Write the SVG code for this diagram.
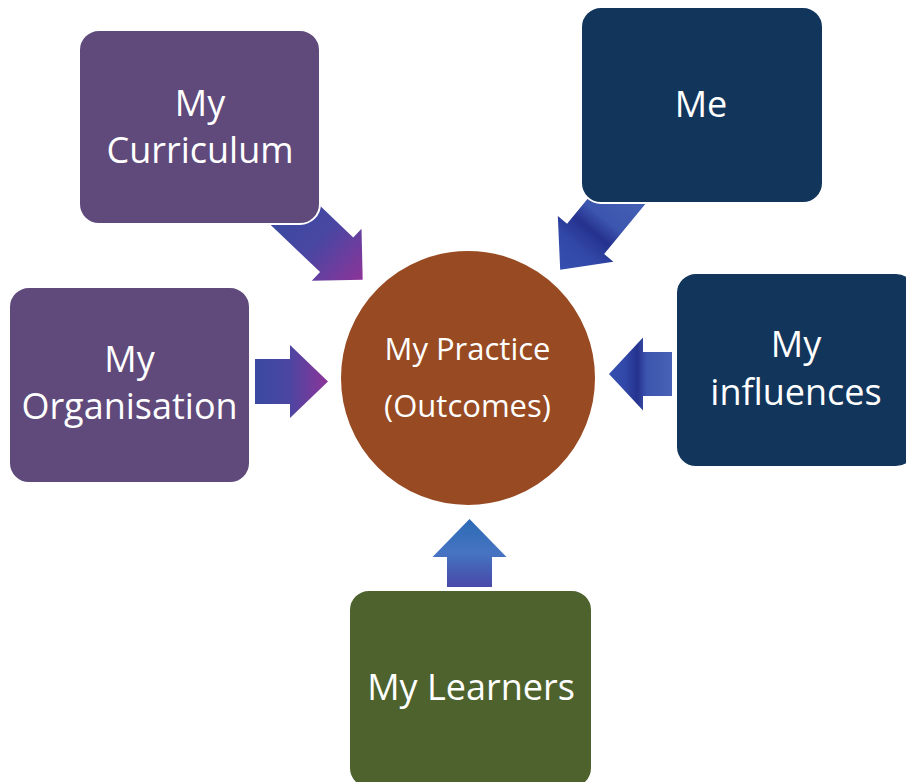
<svg xmlns="http://www.w3.org/2000/svg" width="906" height="782" viewBox="0 0 906 782">
  <style>
    .box { stroke: #ffffff; stroke-width: 2; }
    .purple { fill: #5F4A7B; }
    .navy { fill: #12355C; }
    .green { fill: #4E622D; }
    .brown { fill: #984A22; }
    .lbl { font-family: "Open Sans", "Noto Sans", "DejaVu Sans", sans-serif; fill: #ffffff; text-anchor: middle; font-size: 36px; }
    .clbl { font-size: 31px; }
  </style>
  <defs>
    <linearGradient id="gBP" x1="0" y1="0" x2="1" y2="0">
      <stop offset="0" stop-color="#3A4AA0"/>
      <stop offset="0.45" stop-color="#4A46A2"/>
      <stop offset="1" stop-color="#8C3599"/>
    </linearGradient>
    <linearGradient id="gBand" x1="0" y1="0" x2="1" y2="0">
      <stop offset="0" stop-color="#4762B6"/>
      <stop offset="0.4" stop-color="#3C55AE"/>
      <stop offset="0.55" stop-color="#25328E"/>
      <stop offset="0.75" stop-color="#3248A8"/>
      <stop offset="1" stop-color="#3550B0"/>
    </linearGradient>
    <linearGradient id="gUp" x1="0" y1="0" x2="1" y2="0">
      <stop offset="0" stop-color="#4848A8"/>
      <stop offset="0.5" stop-color="#4674C2"/>
      <stop offset="1" stop-color="#2C6AB4"/>
    </linearGradient>
  </defs>

  <g id="connectors">
    <polygon id="arrow-curriculum" fill="url(#gBP)" transform="translate(294,214) rotate(43.7)" points="-10,-24 59,-24 59,-36 95,0 59,36 59,24 -10,24"/>
    <polygon id="arrow-me" fill="url(#gBand)" transform="translate(625,191) rotate(129.45)" points="-10,-24 62,-24 62,-36 102,0 62,36 62,24 -10,24"/>
    <polygon id="arrow-organisation" fill="url(#gBP)" points="255,359 290,359 290,345 328,381.5 290,418 290,404 255,404"/>
    <polygon id="arrow-influences" fill="url(#gBand)" transform="translate(672,374) rotate(180)" points="0,-22 29,-22 29,-36.5 63,0 29,36.5 29,22 0,22"/>
    <polygon id="arrow-learners" fill="url(#gUp)" transform="translate(469.5,587) rotate(-90)" points="0,-22.5 30,-22.5 30,-37 68,0 30,37 30,22.5 0,22.5"/>
  </g>

  <g id="node-practice">
    <circle class="brown" cx="468" cy="378" r="128" stroke="#ffffff" stroke-width="2"/>
    <text class="lbl clbl" x="467.5" y="360">My Practice</text>
    <text class="lbl clbl" x="467.5" y="417">(Outcomes)</text>
  </g>

  <g id="node-curriculum">
    <rect class="box purple" x="79" y="30" width="241" height="194" rx="20"/>
    <text class="lbl" x="200" y="116">My</text>
    <text class="lbl" x="200" y="163">Curriculum</text>
  </g>

  <g id="node-me">
    <rect class="box navy" x="581" y="7" width="242" height="196" rx="20"/>
    <text class="lbl" x="701" y="117">Me</text>
  </g>

  <g id="node-organisation">
    <rect class="box purple" x="9" y="287" width="241" height="196" rx="20"/>
    <text class="lbl" x="129.5" y="372">My</text>
    <text class="lbl" x="129.5" y="419">Organisation</text>
  </g>

  <g id="node-influences">
    <rect class="box navy" x="676" y="273" width="240" height="194" rx="20"/>
    <text class="lbl" x="796" y="357">My</text>
    <text class="lbl" x="796" y="405">influences</text>
  </g>

  <g id="node-learners">
    <rect class="box green" x="349" y="590" width="243" height="198" rx="20"/>
    <text class="lbl" x="471" y="700">My Learners</text>
  </g>
</svg>
